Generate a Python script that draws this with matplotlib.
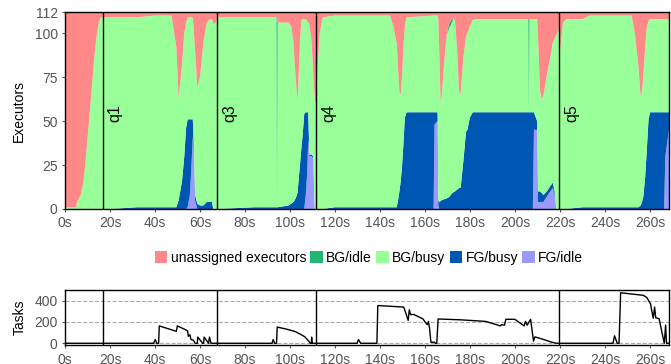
import matplotlib
matplotlib.use("Agg")
import matplotlib.pyplot as plt
from matplotlib.patches import Patch

plt.rcParams['font.family'] = ['Liberation Sans', 'DejaVu Sans']
plt.rcParams['font.size'] = 10

# executor usage over time (seconds)
t = [0, 5.0, 5.3, 7.0, 8.0, 9.0, 10.0, 11.0, 12.0, 13.0, 14.0, 15.0, 16.0,
     20, 32, 40, 47.4, 48.5, 49.5, 50.5, 51.2, 52.0, 53.0, 53.8, 54.5, 55.5, 56.0,
     56.8, 57.3, 57.8, 58.8, 60.0, 61.5, 63.0, 64.4, 65.3, 65.9, 67.0, 67.8,
     84, 94.0, 94.2, 94.5, 99.3, 100.5, 101.5, 102.5, 103.3, 104.4, 105.0, 105.6,
     106.3, 107.0, 107.6, 108.1, 108.6, 109.5, 110.3, 111.0, 111.6,
     112.3, 113.2, 114.5, 120, 144.4, 145.9, 147.4, 148.0, 148.6, 149.2, 149.8,
     150.3, 151.0, 151.8, 163.8, 164.2, 165.6, 165.9, 166.3, 166.9, 167.4, 168.4,
     169.6, 170.8, 172.0, 172.6, 173.3, 174.2, 175.1, 175.8, 177.0, 178.2, 178.8,
     179.9, 181.2, 183.0, 205.9, 206.1, 206.4, 207.9, 208.4, 209.8, 210.2, 211.1,
     211.9, 212.6, 214.1, 215.6, 216.8, 217.6, 218.3, 219.6,
     220.0, 221.3, 222.8, 230, 233.3, 251.8, 253.3, 254.8, 255.8, 256.4, 257.0,
     257.8, 258.5, 259.3, 260.0, 266.2, 266.8, 268.4]
fg_idle = [0, 0, 0, 0, 0, 0, 0, 0, 0, 0, 0, 0, 0,
           0, 0, 0, 0, 0, 0, 0, 0, 0, 0, 0, 1, 8, 20,
           41, 32, 5, 0, 0, 0, 0, 0, 0, 0, 0, 0,
           0, 0, 0, 0, 0, 0, 0, 0, 0, 0, 0, 0,
           0, 8, 20, 40, 30, 30, 29, 0, 0,
           0, 0, 0, 0, 0, 0, 0, 0, 0, 0, 0,
           0, 0, 0, 0, 48, 50, 2, 0, 0, 0, 0,
           0, 0, 0, 0, 0, 0, 0, 0, 0, 0, 0,
           0, 0, 0, 0, 0, 0, 0, 45, 45, 4, 4,
           4, 4, 7, 10, 12, 8, 0, 0,
           0, 0, 0, 0, 0, 0, 0, 0, 0, 0, 0,
           0, 0, 0, 0, 0, 30, 45]
fg_busy = [0, 0, 0, 0, 0, 0, 0, 0, 0, 0, 0, 0, 0,
           0, 1, 1, 1, 1, 1, 5, 10, 16, 30, 46, 50, 43, 31,
           10, 3, 3, 3, 2, 2, 4, 4, 4, 0, 0, 0,
           1, 1, 1, 1, 2, 3, 4, 6, 9, 25, 34, 42,
           54, 47, 35, 15, 1, 1, 1, 0, 0,
           0, 0, 0, 1, 1, 1, 1, 5, 10, 16, 25,
           35, 52, 55, 55, 7, 5, 3, 4, 4.5, 5, 5.5,
           6, 7, 9, 9.5, 10, 11, 12, 12, 27, 44, 45,
           52, 55, 55, 55, 55, 55, 55, 10, 5, 6, 6,
           5, 4, 3, 3, 3, 2, 0, 0,
           0, 0, 0, 1, 1, 1, 1, 1, 2, 4, 7,
           18, 33, 51, 55, 55, 25, 10]
bg_busy = [1, 1, 4, 8, 14, 25, 40, 55, 70, 86, 98, 106, 109,
           109, 108, 109, 109, 99, 91, 58, 62, 66, 70, 60, 58, 58, 58,
           58, 65, 82, 66, 73, 93, 102, 104, 104, 105, 106, 109,
           108, 108, 0, 105, 104, 101, 91, 68, 52, 70, 73, 66,
           54, 53, 52, 51, 74, 65, 48, 62, 60,
           82, 100, 109, 109, 109, 103, 93, 75, 57, 49, 51,
           55, 52, 54, 55, 55, 55, 103, 86, 56.5, 59, 76.5,
           93, 96, 97, 99, 97, 80, 55, 53, 59, 54, 55,
           52, 52.5, 53, 53, 0, 53, 53, 53, 58, 88, 57,
           53.5, 56.5, 66, 73, 80, 87, 99, 103,
           90, 106, 108, 107, 109, 109, 98, 80, 62, 63, 69,
           74, 70, 56, 53, 53, 53, 53]
bg_idle = [0, 0, 0, 0, 0, 0, 0, 0, 0, 0, 0, 0, 0,
           0, 0, 0, 0, 0, 0, 0, 0, 0, 0, 0, 0, 0, 0,
           0, 0, 0, 0, 0, 0, 0, 0, 0, 0, 0, 0,
           0, 0, 108, 0, 0, 0, 0, 0, 0, 0, 0, 0,
           0, 0, 0, 0, 0, 0, 0, 0, 0,
           0, 0, 0, 0, 0, 0, 0, 0, 0, 0, 0,
           0, 0, 0, 0, 0, 0, 0, 0, 0, 0, 0,
           0, 3, 2, 0, 0, 0, 0, 0, 0, 0, 0,
           0, 0, 0, 0, 53, 0, 0, 0, 0, 0, 0,
           0, 0, 0, 0, 0, 0, 0, 0,
           0, 0, 0, 0, 0, 0, 0, 0, 0, 0, 0,
           0, 0, 0, 0, 0, 0, 0]
unassigned = [111, 111, 108, 104, 98, 87, 72, 57, 42, 26, 14, 6, 3,
              3, 3, 2, 2, 12, 20, 49, 40, 30, 12, 6, 3, 3, 3,
              3, 12, 22, 43, 37, 17, 6, 4, 4, 7, 6, 3,
              3, 3, 3, 6, 6, 8, 17, 38, 51, 17, 5, 4,
              4, 4, 5, 6, 7, 16, 34, 50, 52,
              30, 12, 3, 2, 2, 8, 18, 32, 45, 47, 36,
              22, 8, 3, 2, 2, 2, 4, 22, 51, 48, 30,
              13, 6, 4, 3.5, 5, 21, 45, 47, 26, 14, 12,
              8, 4.5, 4, 4, 4, 4, 4, 4, 4, 14, 45,
              49.5, 47.5, 36, 26, 17, 15, 13, 9,
              22, 6, 4, 4, 2, 2, 13, 31, 48, 45, 36,
              20, 9, 5, 4, 4, 4, 4]

# pending tasks
task_t = [0, 39.4, 40.1, 40.8, 41.6, 41.9, 49.5, 49.9, 53.8, 54.5, 54.8, 55.5, 56.0,
          57.0, 57.8, 58.8, 59.0, 61.2, 61.6, 61.8, 63.8, 64.2, 64.9,
          92.0, 92.5, 93.2, 94.0, 94.3, 98, 102.3, 105, 106.5, 108.3, 109, 109.5,
          109.6, 109.8, 129.8, 130.4, 131.4, 138.6, 139.0, 150.5, 151.5, 152.5,
          153.0, 153.5, 155, 157, 159, 160, 161, 161.5, 162, 162.6, 164.2, 164.6,
          165.2, 165.8, 176, 187, 193.5, 194, 195.3, 195.9, 199.9, 204, 204.6,
          205.4, 206.9, 208.2, 208.8, 212, 216.5, 218.3, 243.5, 244.2, 245.4,
          246.2, 246.9, 257, 258.5, 260.2, 260.8, 261.4, 262.0, 262.5, 264, 265.5,
          266.3, 266.9, 267.3, 268.4]
tasks = [0, 0, 35, 0, 0, 163, 112, 163, 125, 115, 65, 80, 35,
         30, 0, 0, 58, 0, 0, 58, 0, 58, 0,
         0, 35, 0, 0, 152, 135, 110, 80, 62, 20, 0, 0,
         58, 0, 0, 35, 0, 0, 354, 340, 280, 215,
         315, 270, 270, 250, 230, 200, 175, 205, 140, 10, 10, 0,
         0, 228, 220, 205, 163, 175, 170, 225, 225, 163, 205,
         170, 225, 20, 60, 40, 9, 0, 0, 70, 0,
         0, 474, 450, 430, 370, 300, 235, 340, 240, 230, 80,
         0, 170, 0, 0]

queries = ['q1', 'q3', 'q4', 'q5']
query_t = [16.7, 67.6, 111.6, 219.6]

labels = ['unassigned executors', 'BG/idle', 'BG/busy', 'FG/busy', 'FG/idle']
colors = ['#ff8888', '#22b573', '#99ff99', '#0057b3', '#9999ff']
xticks = list(range(0, 261, 20))
xticklabels = [f"{v}s" for v in xticks]
tick_color = '#555555'

fig = plt.figure(figsize=(6.71, 3.64), dpi=100)
ax = fig.add_axes([65/671, 1 - 209/364, 604/671, 197/364])
ax2 = fig.add_axes([65/671, 1 - 345.3/364, 604/671, 55.3/364])

ax.stackplot(t, fg_idle, fg_busy, bg_busy, bg_idle, unassigned,
             colors=[colors[4], colors[3], colors[2], colors[1], colors[0]],
             linewidth=0)
ax.set_xlim(0, 268.4)
ax.set_ylim(0, 112)
ax.set_yticks([0, 25, 50, 75, 100, 112])
ax.set_xticks(xticks)
ax.set_xticklabels(xticklabels)
ax.set_ylabel('Executors')
for q, qt in zip(queries, query_t):
    ax.axvline(qt, color='black', lw=1)
    ax.text(qt + 2.3, 49.5, q, rotation=90, ha='left', va='bottom', fontsize=11.5)

ax2.plot(task_t, tasks, color='black', lw=1)
ax2.set_xlim(0, 268.4)
ax2.set_ylim(-19, 500)
ax2.set_yticks([0, 200, 400])
ax2.set_xticks(xticks)
ax2.set_xticklabels(xticklabels)
ax2.set_ylabel('Tasks')
ax2.grid(axis='y', color='#aaaaaa', linestyle='--', lw=0.8)
for qt in query_t:
    ax2.axvline(qt, color='black', lw=1)

for a in (ax, ax2):
    a.tick_params(colors=tick_color, labelcolor=tick_color, length=2.3, pad=3,
                  labelsize=10)
    for s in a.spines.values():
        s.set_color('black')
        s.set_linewidth(1)
    a.yaxis.set_label_coords(-0.064, 0.5)

handles = [Patch(facecolor=c, edgecolor='none') for c in colors]
fig.legend(handles, labels, loc='center', bbox_to_anchor=(369/671, 1 - 258/364),
           ncol=5, frameon=False, handlelength=0.9, handleheight=0.9,
           handletextpad=0.25, columnspacing=0.3, fontsize=10)

fig.savefig('out.png', dpi=100)
